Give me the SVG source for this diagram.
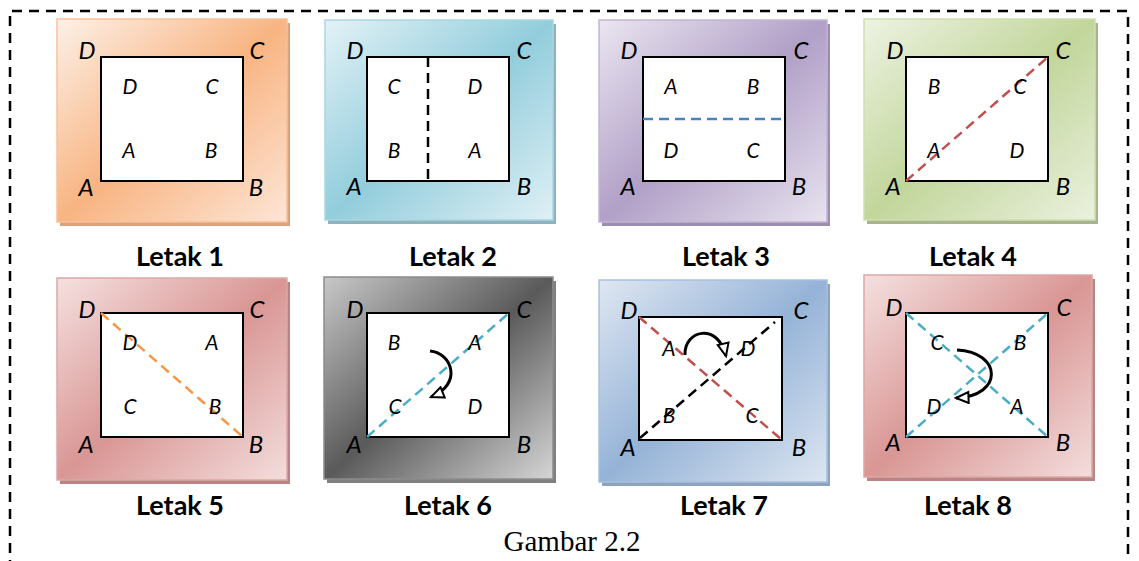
<svg xmlns="http://www.w3.org/2000/svg" width="1139" height="561" viewBox="0 0 1139 561">
<defs>
<linearGradient id="gOrange" x1="0" y1="0" x2="1" y2="1"><stop offset="0" stop-color="#fdf1e8"/><stop offset="0.5" stop-color="#f8b482"/><stop offset="1" stop-color="#fde6d6"/></linearGradient>
<linearGradient id="gCyan" x1="0" y1="0" x2="1" y2="1"><stop offset="0" stop-color="#e3f2f6"/><stop offset="0.5" stop-color="#92cddc"/><stop offset="1" stop-color="#e0f0f5"/></linearGradient>
<linearGradient id="gPurple" x1="0" y1="0" x2="1" y2="1"><stop offset="0" stop-color="#ebe6f1"/><stop offset="0.5" stop-color="#b1a0c7"/><stop offset="1" stop-color="#e8e3ef"/></linearGradient>
<linearGradient id="gGreen" x1="0" y1="0" x2="1" y2="1"><stop offset="0" stop-color="#eef3e3"/><stop offset="0.5" stop-color="#c2d69b"/><stop offset="1" stop-color="#ebf1df"/></linearGradient>
<linearGradient id="gRed" x1="0" y1="0" x2="1" y2="1"><stop offset="0" stop-color="#f4e1e0"/><stop offset="0.5" stop-color="#d99694"/><stop offset="1" stop-color="#f3dedd"/></linearGradient>
<linearGradient id="gGray" x1="0" y1="0" x2="1" y2="1"><stop offset="0" stop-color="#c8c8c8"/><stop offset="0.5" stop-color="#5a5a5a"/><stop offset="1" stop-color="#d6d6d6"/></linearGradient>
<linearGradient id="gBlue" x1="0" y1="0" x2="1" y2="1"><stop offset="0" stop-color="#dfe7f2"/><stop offset="0.5" stop-color="#95b3d7"/><stop offset="1" stop-color="#dde6f1"/></linearGradient>
<marker id="ah" markerUnits="userSpaceOnUse" viewBox="0 0 16 14" markerWidth="16" markerHeight="14" refX="14" refY="7" orient="auto">
<path d="M1.5,1.5 L14,7 L1.5,12.5 Z" fill="#fff" stroke="#000" stroke-width="2"/>
</marker>
</defs>
<style>
.frame{fill:none;stroke:#000;stroke-width:2.5;stroke-dasharray:10 7}
.inner{fill:#fff;stroke:#000;stroke-width:2}
.cl{font-family:Lato,"Open Sans",sans-serif;font-style:italic;font-size:24px;text-anchor:middle;fill:#000}
.il{font-family:Lato,"Open Sans",sans-serif;font-style:italic;font-size:21px;text-anchor:middle;fill:#000}
.lbl{font-family:Lato,"Open Sans",sans-serif;font-weight:bold;font-size:27px;text-anchor:middle;fill:#000}
.cap{font-family:"Liberation Serif",serif;font-size:29px;text-anchor:middle;fill:#000}
.dash{fill:none;stroke-width:2.5;stroke-dasharray:10 6}
.arc{fill:none;stroke:#000;stroke-width:3;marker-end:url(#ah)}
</style>

<path class="frame" d="M10,570 L10,11 L1128,11 L1128,570"/>

<g id="letak1">
<rect x="60" y="23" width="230" height="203" fill="#d9a37d"/>
<rect x="57" y="19" width="230" height="203" fill="url(#gOrange)" stroke="#f7c19a" stroke-width="1.5"/>
<rect class="inner" x="101" y="57" width="142" height="124"/>
<text class="cl" x="87" y="59">D</text><text class="cl" x="257" y="59">C</text>
<text class="cl" x="86" y="196">A</text><text class="cl" x="256" y="196">B</text>
<text class="il" x="130" y="94">D</text><text class="il" x="212" y="94">C</text>
<text class="il" x="129" y="158">A</text><text class="il" x="211" y="158">B</text>
<text class="lbl" x="180" y="266">Letak 1</text>
</g>

<g id="letak2">
<rect x="328" y="24" width="228" height="200" fill="#8fb3bd"/>
<rect x="325" y="20" width="228" height="200" fill="url(#gCyan)" stroke="#a9d6e2" stroke-width="1.5"/>
<rect class="inner" x="367" y="57" width="142" height="124"/>
<line class="dash" x1="428" y1="57" x2="428" y2="181" stroke="#000"/>
<text class="cl" x="355" y="59">D</text><text class="cl" x="524" y="59">C</text>
<text class="cl" x="354" y="195">A</text><text class="cl" x="524" y="195">B</text>
<text class="il" x="394" y="94">C</text><text class="il" x="475" y="94">D</text>
<text class="il" x="394" y="158">B</text><text class="il" x="475" y="158">A</text>
<text class="lbl" x="453" y="266">Letak 2</text>
</g>

<g id="letak3">
<rect x="602" y="24" width="228" height="202" fill="#9c8fad"/>
<rect x="599" y="20" width="228" height="202" fill="url(#gPurple)" stroke="#c2b5d4" stroke-width="1.5"/>
<rect class="inner" x="643" y="57" width="142" height="124"/>
<line class="dash" x1="643" y1="119" x2="785" y2="119" stroke="#4f81bd"/>
<text class="cl" x="629" y="59">D</text><text class="cl" x="801" y="59">C</text>
<text class="cl" x="628" y="195">A</text><text class="cl" x="799" y="195">B</text>
<text class="il" x="671" y="94">A</text><text class="il" x="753" y="94">B</text>
<text class="il" x="671" y="158">D</text><text class="il" x="753" y="158">C</text>
<text class="lbl" x="726" y="266">Letak 3</text>
</g>

<g id="letak4">
<rect x="867" y="23" width="231" height="201" fill="#a8b58c"/>
<rect x="864" y="19" width="231" height="201" fill="url(#gGreen)" stroke="#cfdeb1" stroke-width="1.5"/>
<rect class="inner" x="906" y="57" width="142" height="124"/>
<line class="dash" x1="906" y1="181" x2="1048" y2="57" stroke="#c0504d"/>
<text class="cl" x="895" y="59">D</text><text class="cl" x="1063" y="59">C</text>
<text class="cl" x="893" y="195">A</text><text class="cl" x="1063" y="195">B</text>
<text class="il" x="934" y="94">B</text><text class="il" x="1020" y="94">C</text>
<text class="il" x="934" y="158">A</text><text class="il" x="1017" y="158">D</text>
<text class="lbl" x="973" y="266">Letak 4</text>
</g>

<g id="letak5">
<rect x="60" y="282" width="230" height="202" fill="#b98483"/>
<rect x="57" y="278" width="230" height="202" fill="url(#gRed)" stroke="#dba8a6" stroke-width="1.5"/>
<rect class="inner" x="101" y="313" width="142" height="124"/>
<line class="dash" x1="101" y1="313" x2="243" y2="437" stroke="#f79646"/>
<text class="cl" x="87" y="318">D</text><text class="cl" x="257" y="318">C</text>
<text class="cl" x="86" y="453">A</text><text class="cl" x="256" y="453">B</text>
<text class="il" x="130" y="350">D</text><text class="il" x="212" y="350">A</text>
<text class="il" x="130" y="414">C</text><text class="il" x="215" y="414">B</text>
<text class="lbl" x="180" y="515">Letak 5</text>
</g>

<g id="letak6">
<rect x="327" y="281" width="229" height="202" fill="#7f7f7f"/>
<rect x="324" y="277" width="229" height="202" fill="url(#gGray)" stroke="#8c8c8c" stroke-width="1.5"/>
<rect class="inner" x="367" y="313" width="142" height="124"/>
<line class="dash" x1="367" y1="437" x2="509" y2="313" stroke="#4bacc6"/>
<path class="arc" d="M430,351 C452,353 463,384 431,397"/>
<text class="cl" x="355" y="318">D</text><text class="cl" x="524" y="318">C</text>
<text class="cl" x="354" y="453">A</text><text class="cl" x="524" y="453">B</text>
<text class="il" x="394" y="350">B</text><text class="il" x="475" y="350">A</text>
<text class="il" x="395" y="414">C</text><text class="il" x="475" y="414">D</text>
<text class="lbl" x="448" y="515">Letak 6</text>
</g>

<g id="letak7">
<rect x="602" y="284" width="228" height="202" fill="#8ea3bd"/>
<rect x="599" y="280" width="228" height="202" fill="url(#gBlue)" stroke="#a9c0de" stroke-width="1.5"/>
<rect class="inner" x="639" y="317" width="143" height="123"/>
<line class="dash" x1="639" y1="317" x2="782" y2="440" stroke="#c0504d"/>
<line class="dash" x1="640" y1="438" x2="775" y2="322" stroke="#000"/>
<path class="arc" d="M685,355 C684,330 718,322 726,356"/>
<text class="cl" x="629" y="319">D</text><text class="cl" x="801" y="319">C</text>
<text class="cl" x="628" y="456">A</text><text class="cl" x="799" y="456">B</text>
<text class="il" x="669" y="356">A</text><text class="il" x="748" y="356">D</text>
<text class="il" x="669" y="423">B</text><text class="il" x="752" y="423">C</text>
<text class="lbl" x="724" y="515">Letak 7</text>
</g>

<g id="letak8">
<rect x="867" y="279" width="228" height="202" fill="#b98483"/>
<rect x="864" y="275" width="228" height="202" fill="url(#gRed)" stroke="#dba8a6" stroke-width="1.5"/>
<rect class="inner" x="906" y="313" width="142" height="124"/>
<line class="dash" x1="906" y1="313" x2="1048" y2="437" stroke="#4bacc6"/>
<line class="dash" x1="906" y1="437" x2="1048" y2="313" stroke="#4bacc6"/>
<path class="arc" d="M957,350 C1002,352 1004,396 956,398"/>
<text class="cl" x="894" y="316">D</text><text class="cl" x="1064" y="316">C</text>
<text class="cl" x="893" y="451">A</text><text class="cl" x="1063" y="451">B</text>
<text class="il" x="937" y="350">C</text><text class="il" x="1020" y="350">B</text>
<text class="il" x="934" y="414">D</text><text class="il" x="1017" y="414">A</text>
<text class="lbl" x="968" y="515">Letak 8</text>
</g>

<text class="cap" x="572" y="551">Gambar 2.2</text>
</svg>
